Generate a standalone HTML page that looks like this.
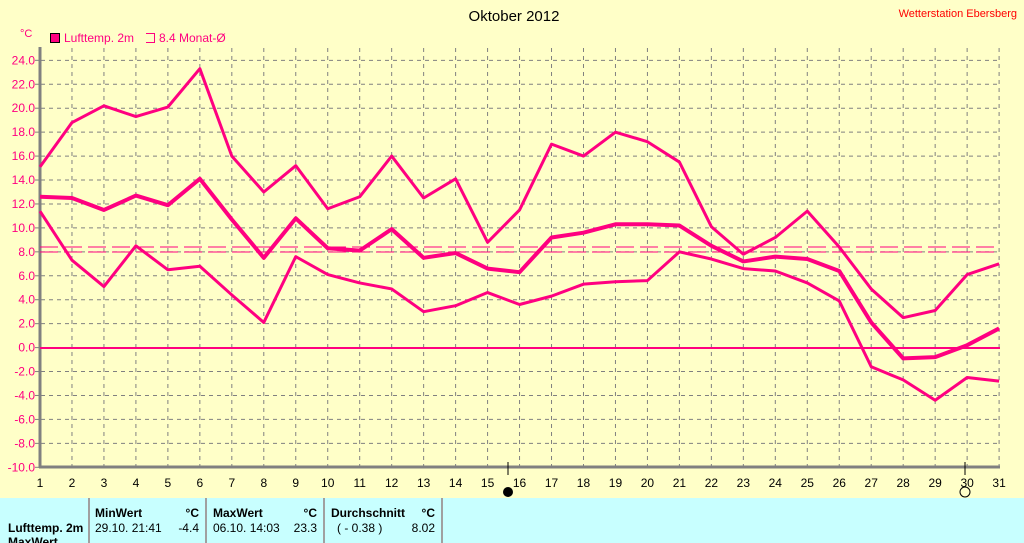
<!DOCTYPE html><html><head><style>body{margin:0;background:#ffffc8;}svg{display:block;font-family:"Liberation Sans",sans-serif;}</style></head><body>
<svg width="1024" height="543" viewBox="0 0 1024 543" xmlns="http://www.w3.org/2000/svg">
<rect width="1024" height="543" fill="#ffffc8"/>
<text x="514" y="21" font-size="15" text-anchor="middle" fill="#000">Oktober 2012</text>
<text x="1017" y="17" font-size="11" text-anchor="end" fill="#ff0000">Wetterstation Ebersberg</text>
<text x="20" y="37" font-size="11" fill="#ff0080">°C</text>
<rect x="50.5" y="33.5" width="9" height="9" fill="#ff0080" stroke="#000"/>
<text x="64" y="42" font-size="12" fill="#ff0080">Lufttemp. 2m</text>
<path d="M146 33.5 H154.5 V42.5 H146" fill="none" stroke="#ff0080"/>
<text x="159" y="42" font-size="12" fill="#ff0080">8.4 Monat-Ø</text>
<g id="grid"></g>
<g stroke="#808080" stroke-dasharray="4,4" stroke-width="1" id="g"></g>
<line x1="40" y1="47" x2="40" y2="468" stroke="#808080" stroke-width="3"/>
<line x1="39" y1="467" x2="1000" y2="467" stroke="#808080" stroke-width="3"/>
<line x1="40" y1="348" x2="1000" y2="348" stroke="#ff0080" stroke-width="2"/>
<line x1="40" y1="247" x2="1000" y2="247" stroke="#ff0080" stroke-dasharray="18,6"/>
<line x1="40" y1="252" x2="1000" y2="252" stroke="#ff0080" stroke-dasharray="18,6"/>
<line x1="508" y1="462" x2="508" y2="475" stroke="#000"/>
<line x1="965" y1="462" x2="965" y2="475" stroke="#000"/>
<circle cx="508" cy="492" r="5" fill="#000"/>
<circle cx="965" cy="492" r="5" fill="none" stroke="#000"/>
<g id="lines" fill="none" stroke="#ff0080" stroke-linejoin="round"></g>
<g id="lbl" font-size="12"></g>
<rect x="0" y="498" width="1024" height="45" fill="#c8ffff"/>
<g stroke="#a0a0a0" stroke-width="2"><line x1="89" y1="498" x2="89" y2="543"/><line x1="206" y1="498" x2="206" y2="543"/><line x1="324" y1="498" x2="324" y2="543"/><line x1="442" y1="498" x2="442" y2="543"/></g>
<g font-size="12" fill="#000">
<text x="95" y="517" font-weight="bold">MinWert</text><text x="199" y="517" text-anchor="end" font-weight="bold">°C</text>
<text x="95" y="532">29.10.  21:41</text><text x="199" y="532" text-anchor="end">-4.4</text>
<text x="213" y="517" font-weight="bold">MaxWert</text><text x="317" y="517" text-anchor="end" font-weight="bold">°C</text>
<text x="213" y="532">06.10.  14:03</text><text x="317" y="532" text-anchor="end">23.3</text>
<text x="331" y="517" font-weight="bold">Durchschnitt</text><text x="435" y="517" text-anchor="end" font-weight="bold">°C</text>
<text x="337" y="532">( - 0.38 )</text><text x="435" y="532" text-anchor="end">8.02</text>
<text x="8" y="532" font-weight="bold">Lufttemp. 2m</text>
<text x="8" y="546" font-weight="bold">MaxWert</text>
</g>
</svg>
<script>
const ns="http://www.w3.org/2000/svg";
const X=d=>40+(d-1)*31.97, Y=v=>347.6-v*11.97;
const g=document.getElementById('g'), l=document.getElementById('lbl'), L=document.getElementById('lines');
function el(p,t,a,txt){const e=document.createElementNS(ns,t);for(const k in a)e.setAttribute(k,a[k]);if(txt!==undefined)e.textContent=txt;p.appendChild(e);}
for(let d=2;d<=31;d++)el(g,'line',{x1:X(d),y1:48,x2:X(d),y2:466});
for(let v=-8;v<=24;v+=2)if(v!==0)el(g,'line',{x1:41,y1:Y(v),x2:1000,y2:Y(v)});
for(let v=-10;v<=24;v+=2){el(l,'text',{x:35,y:Y(v)+4,'text-anchor':'end',fill:'#ff0080'},v.toFixed(1));el(l,'line',{x1:35,y1:Y(v),x2:40,y2:Y(v),stroke:'#808080'});}
for(let d=1;d<=31;d++)el(l,'text',{x:X(d),y:487,'text-anchor':'middle',fill:'#000'},d);
const mx=[15.1,18.8,20.2,19.3,20.1,23.3,16,13,15.2,11.6,12.6,16,12.5,14.1,8.8,11.5,17,16,18,17.2,15.5,10.1,7.8,9.2,11.4,8.4,4.9,2.5,3.1,6.1,7.0];
const av=[12.6,12.5,11.5,12.7,11.9,14.1,10.7,7.5,10.8,8.3,8.1,9.9,7.5,7.9,6.6,6.3,9.2,9.6,10.3,10.3,10.2,8.5,7.2,7.6,7.4,6.4,2.1,-0.9,-0.8,0.2,1.6];
const mn=[11.4,7.3,5.1,8.5,6.5,6.8,4.4,2.1,7.6,6.1,5.4,4.9,3.0,3.5,4.6,3.6,4.3,5.3,5.5,5.6,8.0,7.4,6.6,6.4,5.4,3.9,-1.6,-2.7,-4.4,-2.5,-2.8];
[[mx,3],[av,4],[mn,3]].forEach(([a,w])=>el(L,'polyline',{points:a.map((v,i)=>X(i+1)+','+Y(v)).join(' '),'stroke-width':w}));
</script>
</body></html>
